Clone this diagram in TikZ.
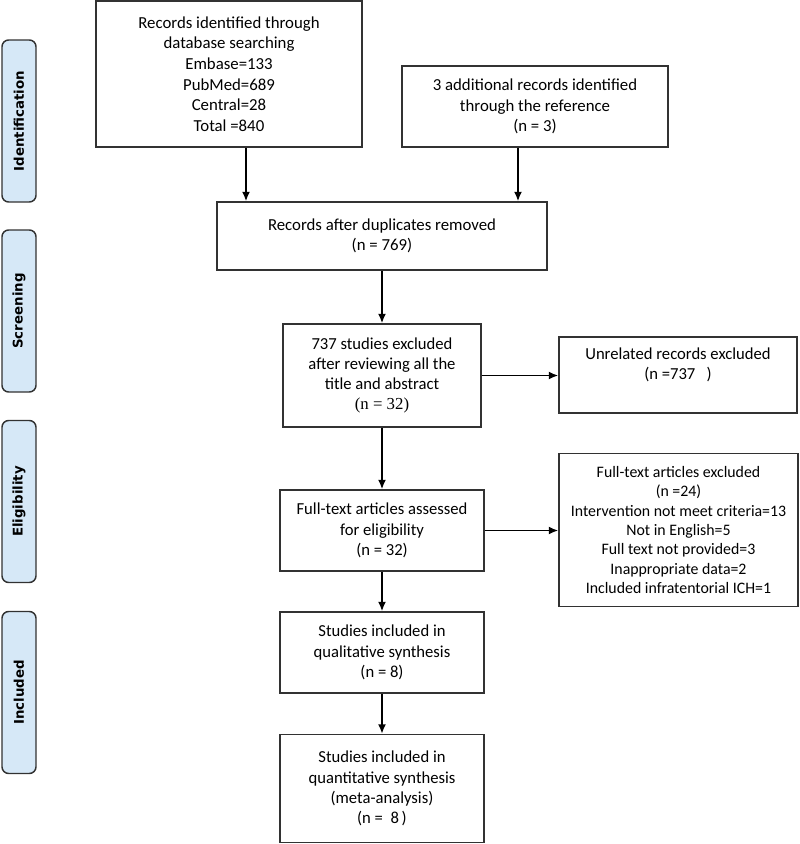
\documentclass[tikz,border=0pt]{standalone}
\usepackage{fontspec}
\setmainfont{Carlito}
\newfontfamily\narrowfont{Carlito}[FakeStretch=0.99]
\newfontfamily\serifnum{Liberation Serif}
\newfontfamily\phasefont{DejaVu Sans}
\usetikzlibrary{arrows.meta}

\definecolor{phaseblue}{RGB}{214,232,247}
\definecolor{framegray}{RGB}{50,50,50}

\tikzset{every picture/.style={line width=0.75pt}}
\tikzset{
  box/.style={draw=framegray, line width=1.3, align=center, inner sep=2pt},
  wide/.style={box, font=\fontsize{12.6}{15.4}\selectfont},
  slim/.style={box, font=\narrowfont\fontsize{12.6}{15.2}\selectfont},
  phase/.style={draw=framegray, fill=phaseblue, line width=1.1, rounded corners=5pt,
    minimum width=34*0.75pt, minimum height=162*0.75pt, inner sep=0pt},
  phaselabel/.style={rotate=90, font=\phasefont\bfseries\fontsize{10}{12}\selectfont},
  arr/.style={draw=black, line width=1.1, -{Latex[length=7pt,width=6pt]}}
}

\begin{document}
\begin{tikzpicture}[x=0.75pt,y=0.75pt,yscale=-1,xscale=1]
\useasboundingbox (0,0) rectangle (800,844);

%Shape: Rounded Rect (phase bars)
\node [phase] (idf) at (19,121) {};
\node [phase] (scr) at (19,311) {};
\node [phase] (elg) at (19,501.5) {};
\node [phase] (inc) at (19,692.5) {};
% Text Node
\node [phaselabel] at (idf) {Identification};
\node [phaselabel] at (scr) {Screening};
\node [phaselabel] at (elg) {Eligibility};
\node [phaselabel] at (inc) {Included};

%Shape: Rectangle (identification)
\node [wide, minimum width=266*0.75pt, minimum height=146*0.75pt] (db) at (229,74) {Records identified through\\database searching\\Embase=133\\PubMed=689\\Central=28\\Total =840};
\node [wide, minimum width=266*0.75pt, minimum height=81*0.75pt] (addl) at (535,106.5) {3 additional records identified\\through the reference\\(n = 3)};

%Shape: Rectangle (screening)
\node [wide, minimum width=330*0.75pt, minimum height=68*0.75pt] (dup) at (382,236) {Records after duplicates removed\\(n = 769)};
\node [slim, minimum width=198*0.75pt, minimum height=103*0.75pt] (excl) at (382,375.5) {737 studies excluded\\after reviewing all the\\title and abstract\\{\serifnum(n = 32)}};
\node [slim, minimum width=238*0.75pt, minimum height=76*0.75pt] (unrel) at (678,375) {Unrelated records excluded\\(n =737\ \ \ )\\[2pt]};

%Shape: Rectangle (eligibility)
\node [slim, minimum width=204*0.75pt, minimum height=81*0.75pt] (full) at (382,530.5) {Full-text articles assessed\\for eligibility\\(n = 32)};
\node [slim, minimum width=239*0.75pt, minimum height=153*0.75pt, font=\narrowfont\fontsize{12}{14.5}\selectfont] (ftex) at (678.5,530) {Full-text articles excluded\\(n =24)\\Intervention not meet criteria=13\\Not in English=5\\Full text not provided=3\\Inappropriate data=2\\Included infratentorial ICH=1};

%Shape: Rectangle (included)
\node [slim, minimum width=204*0.75pt, minimum height=81*0.75pt] (qual) at (382,652.5) {Studies included in\\qualitative synthesis\\(n = 8)};
\node [slim, minimum width=204*0.75pt, minimum height=108*0.75pt] (quant) at (382,788.5) {Studies included in\\quantitative synthesis\\(meta-analysis)\\(n =\ \ 8\,)};

%Straight Lines (arrows)
\draw [arr] ([xshift=12.75pt]db.south) -- ([xshift=12.75pt]db.south |- dup.north);
\draw [arr] ([xshift=-12.75pt]addl.south) -- ([xshift=-12.75pt]addl.south |- dup.north);
\draw [arr] (dup) -- (excl);
\draw [arr] (excl.east) -- (excl.east -| unrel.west);
\draw [arr] (excl) -- (full);
\draw [arr] (full.east) -- (full.east -| ftex.west);
\draw [arr] (full) -- (qual);
\draw [arr] (qual) -- (quant);

\end{tikzpicture}
\end{document}
